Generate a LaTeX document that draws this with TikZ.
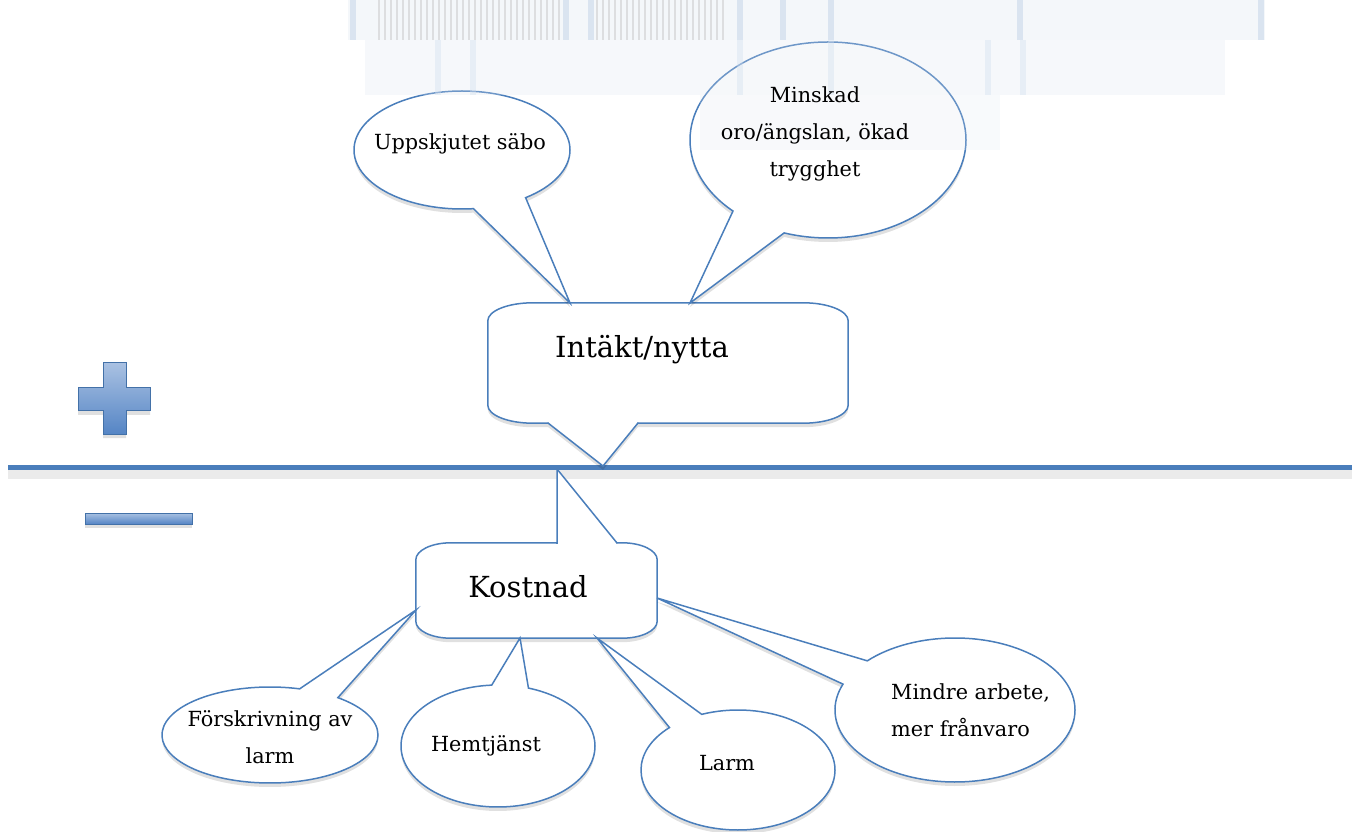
\documentclass[tikz,border=0pt]{standalone}
\usepackage{fontspec}
\setmainfont{DejaVu Serif}
\usetikzlibrary{shapes.callouts,shadows}

\definecolor{calloutblue}{HTML}{4A7EBB}
\definecolor{signtop}{HTML}{A9C1E2}
\definecolor{signbottom}{HTML}{5585C5}
\definecolor{glitch}{HTML}{DCE4EF}

\tikzset{
  softshadow/.style={drop shadow={shadow xshift=0pt, shadow yshift=-4pt, opacity=0.12, fill=black}},
  bubble/.style={ellipse callout, draw=calloutblue, line width=1.5pt, fill=white,
    inner sep=0pt, softshadow},
  boxline/.style={draw=calloutblue, line width=1.5pt, fill=white, softshadow},
  smalltext/.style={font=\fontsize{20.8}{37}\selectfont, inner sep=0pt},
  bigtext/.style={font=\fontsize{29}{34}\selectfont, inner sep=0pt},
  sign/.style={draw=calloutblue!90!black, line width=1pt, top color=signtop, bottom color=signbottom, softshadow},
  axis/.style={draw=calloutblue, line width=5pt}
}

\begin{document}
\begin{tikzpicture}[x=1pt, y=1pt]
	\useasboundingbox (0,0) rectangle (1362,831);

	% plus and minus signs
	\path[sign] (103,468) -- (126,468) -- (126,443) -- (150,443) -- (150,420) -- (126,420)
		-- (126,397) -- (103,397) -- (103,420) -- (78,420) -- (78,443) -- (103,443) -- cycle;
	\path[sign] (85,307) rectangle (192,318);

	% the axis
	\coordinate (axis west) at (8,364);
	\coordinate (axis east) at (1352,364);
	\fill[black, opacity=0.08] (8,352) rectangle (1352,361);
	\draw[axis] (axis west) -- (axis east);

	% Intäkt/nytta box
	\node[minimum width=360, minimum height=120, inner sep=0pt] (intakt) at (668,468) {};
	\coordinate (intakt tip) at (603,365);
	\coordinate (intakt base r) at (638,408);
	\coordinate (intakt base l) at (548,408);
	\path[boxline] ([xshift=45]intakt.north west) -- ([xshift=-45]intakt.north east)
		arc[start angle=90, end angle=0, x radius=45, y radius=18]
		-- ([yshift=18]intakt.south east)
		arc[start angle=0, end angle=-90, x radius=45, y radius=18]
		-- (intakt base r) -- (intakt tip) -- (intakt base l)
		-- ([xshift=45]intakt.south west)
		arc[start angle=270, end angle=180, x radius=45, y radius=18]
		-- ([yshift=-18]intakt.north west)
		arc[start angle=180, end angle=90, x radius=45, y radius=18] -- cycle;
	\node[bigtext, anchor=base] (intakt text) at (642,473) {Intäkt/nytta};

	% Kostnad box
	\node[minimum width=241, minimum height=95, inner sep=0pt] (kostnad) at (536.5,240.5) {};
	\coordinate (kostnad tip) at (557,362);
	\coordinate (kostnad base l) at (557,288);
	\coordinate (kostnad base r) at (617,288);
	\path[boxline] ([xshift=35]kostnad.north west) -- (kostnad base l) -- (kostnad tip)
		-- (kostnad base r) -- ([xshift=-35]kostnad.north east)
		arc[start angle=90, end angle=0, x radius=35, y radius=17]
		-- ([yshift=17]kostnad.south east)
		arc[start angle=0, end angle=-90, x radius=35, y radius=17]
		-- ([xshift=35]kostnad.south west)
		arc[start angle=270, end angle=180, x radius=35, y radius=17]
		-- ([yshift=-17]kostnad.north west)
		arc[start angle=180, end angle=90, x radius=35, y radius=17] -- cycle;
	\node[bigtext, anchor=base] (kostnad text) at (528,234) {Kostnad};

	% pointer tips
	\coordinate (saebo tip) at (570,528);
	\coordinate (trygg tip) at (690,528);
	\coordinate (forskr tip) at (416,221);
	\coordinate (hemtj tip) at (520,193);
	\coordinate (larm tip) at (597,193);
	\coordinate (arbete tip) at (657,233);

	% callouts above
	\node[bubble, minimum width=216, minimum height=118, callout pointer arc=30,
		callout absolute pointer={(saebo tip)}] (saebo) at (462,681) {};
	\node[bubble, minimum width=276, minimum height=196, callout pointer arc=25,
		callout absolute pointer={(trygg tip)}] (trygg) at (828,691) {};

	% callouts below
	\node[bubble, minimum width=216, minimum height=96, callout pointer arc=23,
		callout absolute pointer={(forskr tip)}] (forskr) at (270,96) {};
	\node[bubble, minimum width=194, minimum height=122, callout pointer arc=22,
		callout absolute pointer={(hemtj tip)}] (hemtj) at (498,85) {};
	\node[bubble, minimum width=194, minimum height=120, callout pointer arc=23,
		callout absolute pointer={(larm tip)}] (larm) at (738,61) {};
	\node[bubble, minimum width=240, minimum height=144, callout pointer arc=22,
		callout absolute pointer={(arbete tip)}] (arbete) at (955,121) {};

	% faded bands at the top
	\fill[glitch, opacity=0.3] (348,791) rectangle (1265,831);
	\fill[glitch, opacity=0.25] (365,736) rectangle (1225,791);
	\fill[glitch, opacity=0.2] (700,681) rectangle (1000,736);
	\foreach \x in {378,384,...,560}
		\fill[gray!60, opacity=0.35] (\x,791) rectangle ++(2,40);
	\foreach \x in {596,602,...,726}
		\fill[gray!60, opacity=0.35] (\x,791) rectangle ++(2,40);
	\foreach \x in {350,563,588,737,780,828,1017,1258}
		\fill[calloutblue!35, opacity=0.5] (\x,791) rectangle ++(6,40);
	\foreach \x in {435,470,737,828,985,1020}
		\fill[calloutblue!25, opacity=0.4] (\x,736) rectangle ++(6,55);

	% texts
	\node[smalltext, anchor=base] (saebo text) at (460,681) {Uppskjutet säbo};
	\node[smalltext, anchor=base, align=center] (trygg text) at (815,654)
		{Minskad\\oro/ängslan, ökad\\trygghet};
	\node[smalltext, anchor=base, align=center] (forskr text) at (270,68)
		{Förskrivning av\\larm};
	\node[smalltext, anchor=base] (hemtj text) at (486,80) {Hemtjänst};
	\node[smalltext, anchor=base] (larm text) at (727,61) {Larm};
	\node[smalltext, anchor=base west, align=left] (arbete text) at (891,95)
		{Mindre arbete,\\mer frånvaro};
\end{tikzpicture}
\end{document}
